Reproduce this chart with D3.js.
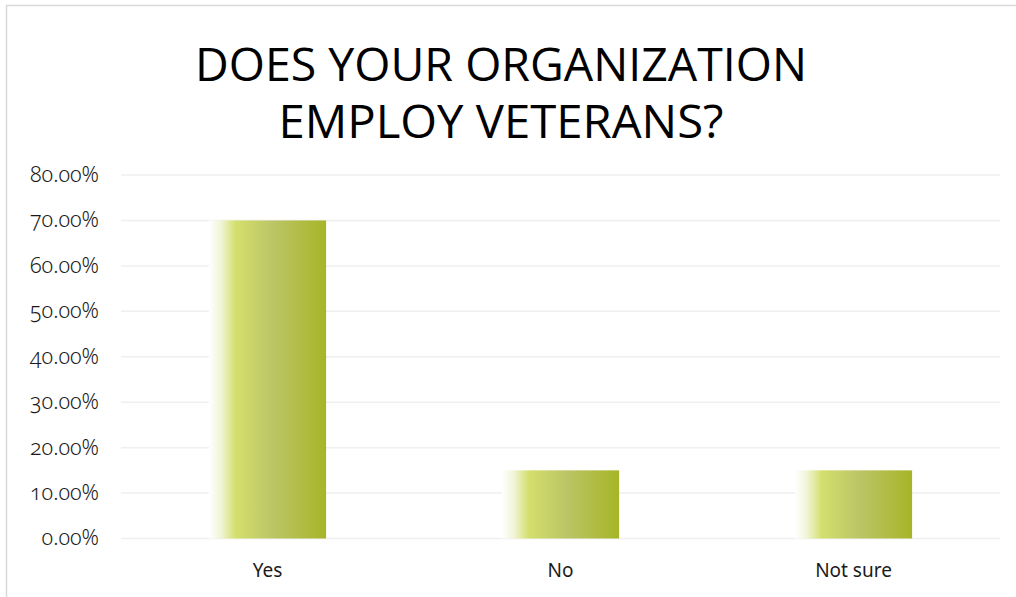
<!DOCTYPE html>
<html>
<head>
<meta charset="utf-8">
<script src="https://cdn.jsdelivr.net/npm/d3@7"></script>
<style>
  html, body { margin: 0; padding: 0; background: #fff; }
  svg { display: block; }
  .tick-label { font-family: "Noto Sans", "Open Sans", sans-serif; font-feature-settings: "onum" 1; }
</style>
</head>
<body>
<svg id="chart" width="1016" height="597"></svg>
<script>
// Survey answers and their shares (percent)
const categories = ["Yes", "No", "Not sure"];
const shares = [70, 15, 15];
const yTicks = [0, 10, 20, 30, 40, 50, 60, 70, 80];
const titleLines = ["DOES YOUR ORGANIZATION", "EMPLOY VETERANS?"];

const svg = d3.select("#chart");
const W = 1016, H = 597;
const plot = { left: 121, right: 1000, top: 175, bottom: 538.5 };

// Chart frame
svg.append("rect")
  .attr("x", 6.5).attr("y", 5.5)
  .attr("width", W + 20).attr("height", H + 20)
  .attr("fill", "#fff")
  .attr("stroke", "#d9d9d9").attr("stroke-width", 1.5);

// Horizontal fade used by every bar
const defs = svg.append("defs");
const grad = defs.append("linearGradient")
  .attr("id", "barFill").attr("x1", "0").attr("x2", "1").attr("y1", "0").attr("y2", "0");
[
  [0, "#ffffff"],
  [0.1, "#f1f5d8"],
  [0.23, "#d3df6c"],
  [0.55, "#bbc566"],
  [1, "#a6b527"]
].forEach(([o, c]) => grad.append("stop").attr("offset", o).attr("stop-color", c));

const x = d3.scaleBand().domain(categories).range([plot.left, plot.right]).paddingInner(0.6).paddingOuter(0.3);
const y = d3.scaleLinear().domain([0, 80]).range([plot.bottom, plot.top]);

// Gridlines
svg.append("g").selectAll("line").data(yTicks).join("line")
  .attr("x1", plot.left).attr("x2", plot.right)
  .attr("y1", d => y(d)).attr("y2", d => y(d))
  .attr("stroke", "#efefef").attr("stroke-width", 1.5);

// Y axis labels
const yAxis = d3.axisLeft(y).tickValues(yTicks).tickSize(0).tickPadding(0)
  .tickFormat(d => d3.format(".2f")(d) + "%");
const gy = svg.append("g").attr("transform", "translate(99,0)").call(yAxis);
gy.select(".domain").remove();
gy.selectAll("text")
  .attr("class", "tick-label")
  .attr("font-size", 21.5).attr("fill", "#1a1a1a")
  .attr("font-weight", 300)
  .attr("dy", "0.3em");

// Bars
svg.append("g").selectAll("rect").data(categories).join("rect")
  .attr("x", d => x(d))
  .attr("width", x.bandwidth())
  .attr("y", (d, i) => y(shares[i]))
  .attr("height", (d, i) => y(0) - y(shares[i]))
  .attr("fill", "url(#barFill)");

// Category axis labels
const xAxis = d3.axisBottom(x).tickSize(0).tickPadding(0);
const gx = svg.append("g").attr("transform", "translate(0,577)").call(xAxis);
gx.select(".domain").remove();
gx.selectAll("text")
  .attr("font-family", "'Noto Sans', 'Open Sans', sans-serif")
  .attr("font-size", 19).attr("fill", "#1a1a1a")
  .attr("dy", 0);

// Title
const titleWidths = [612, 445];
svg.append("g").selectAll("text").data(titleLines).join("text")
  .attr("x", 501)
  .attr("y", (d, i) => 81 + i * 57)
  .attr("text-anchor", "middle")
  .attr("font-family", "'Open Sans', 'Noto Sans', sans-serif")
  .attr("font-weight", 400)
  .attr("font-size", 46)
  .attr("fill", "#000")
  .attr("textLength", (d, i) => titleWidths[i])
  .attr("lengthAdjust", "spacingAndGlyphs")
  .text(d => d);
</script>
</body>
</html>
